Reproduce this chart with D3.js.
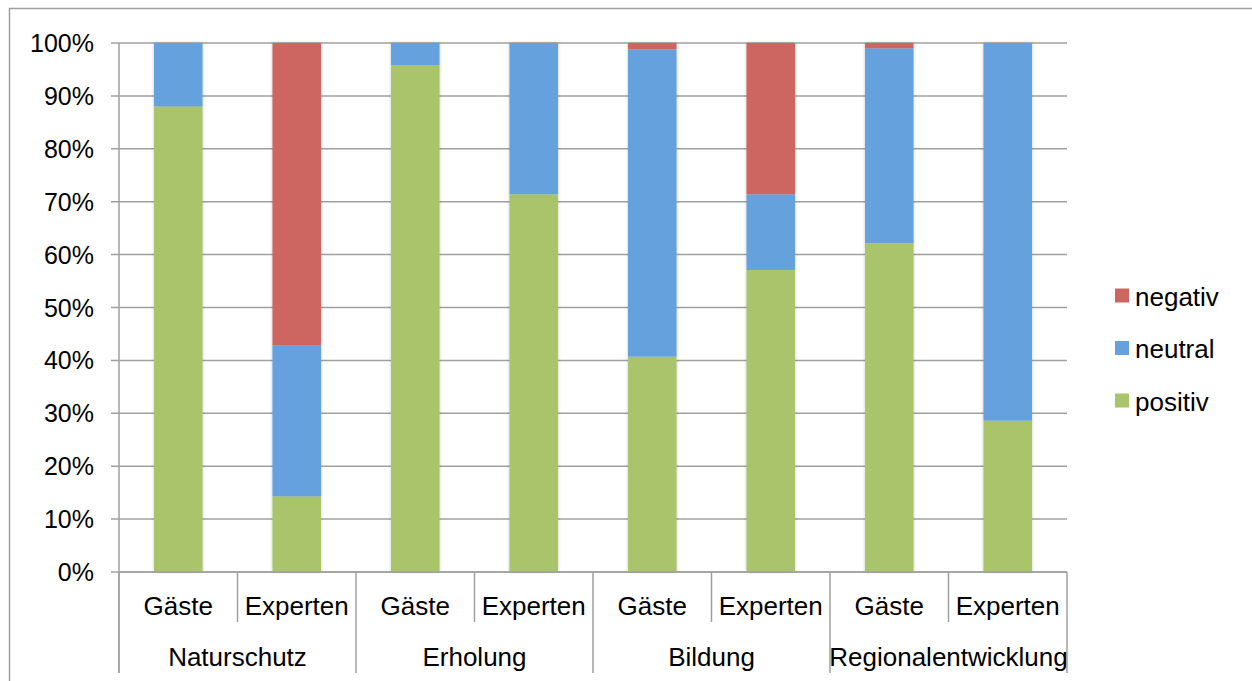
<!DOCTYPE html>
<html><head><meta charset="utf-8">
<script src="https://cdn.jsdelivr.net/npm/d3@7"></script>
<style>body{margin:0;background:#fff}svg{display:block}text{font-family:"Liberation Sans",Arial,sans-serif;fill:#000}</style>
</head><body><svg id="c" width="1252" height="681"></svg>
<script>
const groups = ["Naturschutz","Erholung","Bildung","Regionalentwicklung"];
const subgroups = ["Gäste","Experten"];
const seriesNames = ["positiv","neutral","negativ"];
const positiv = [88.0, 14.3, 95.8, 71.4, 40.7, 57.1, 62.2, 28.6];
const neutral = [12.0, 28.6, 4.2, 28.6, 58.1, 14.3, 36.8, 71.4];
const negativ = [0.0, 57.1, 0.0, 0.0, 1.2, 28.6, 1.0, 0.0];
const colors = ["#A9C46B","#65A1DD","#CD6660"];
const yTicks = [0,10,20,30,40,50,60,70,80,90,100];

const svg = d3.select("#c");
const L = 119, R = 1067, T = 43, B = 572;
svg.append("path").attr("d","M9.5,690 V8.5 H1262").attr("fill","none").attr("stroke","#a0a0a0").attr("stroke-width",1.5);

const cats = [];
groups.forEach(g => subgroups.forEach(s => cats.push(g+"|"+s)));
const x = d3.scaleBand().domain(cats).range([L,R]).paddingInner(0.59).paddingOuter(0.295);
const xStep = (R-L)/cats.length;
const y = d3.scaleLinear().domain([0,100]).range([B,T]);

const defs = svg.append("defs");
const f = defs.append("filter").attr("id","sh").attr("x","-20%").attr("y","-5%").attr("width","140%").attr("height","110%");
f.append("feDropShadow").attr("dx",0).attr("dy",0).attr("stdDeviation",1.5).attr("flood-color","#000").attr("flood-opacity",0.25);

svg.append("g").selectAll("line").data(yTicks).join("line")
  .attr("x1",L-8).attr("x2",R).attr("y1",d=>y(d)).attr("y2",d=>y(d))
  .attr("stroke","#a0a0a0").attr("stroke-width",1.5);
svg.append("g").selectAll("text").data(yTicks).join("text")
  .attr("x",94).attr("y",d=>y(d)).attr("dy","0.36em").attr("text-anchor","end")
  .attr("font-size",25).text(d=>d+"%");

const rows = cats.map((c,i)=>({cat:c, positiv:positiv[i], neutral:neutral[i], negativ:negativ[i]}));
const stack = d3.stack().keys(seriesNames)(rows);
const bars = svg.append("g").attr("filter","url(#sh)");
stack.forEach((s,si)=>{
  bars.append("g").attr("fill",colors[si]).selectAll("rect").data(s).join("rect")
    .attr("x",d=>x(d.data.cat)).attr("width",x.bandwidth())
    .attr("y",d=>y(d[1])).attr("height",d=>Math.max(0,y(d[0])-y(d[1])));
});

svg.append("line").attr("x1",L).attr("x2",L).attr("y1",T).attr("y2",673).attr("stroke","#a0a0a0").attr("stroke-width",1.5);
svg.append("line").attr("x1",L).attr("x2",R).attr("y1",B).attr("y2",B).attr("stroke","#a0a0a0").attr("stroke-width",1.5);
for(let i=0;i<=cats.length;i++){
  const xx = L + i*xStep;
  const long = i%2===0;
  svg.append("line").attr("x1",xx).attr("x2",xx).attr("y1",B).attr("y2",long?673:622)
    .attr("stroke","#a0a0a0").attr("stroke-width",1.5);
}
svg.append("g").selectAll("text").data(cats).join("text")
  .attr("x",d=>x(d)+x.bandwidth()/2).attr("y",615).attr("text-anchor","middle")
  .attr("font-size",26).text(d=>d.split("|")[1]);
svg.append("g").selectAll("text").data(groups).join("text")
  .attr("x",(d,i)=>L+(2*i+1)*xStep).attr("y",666).attr("text-anchor","middle")
  .attr("font-size",26).text(d=>d);

const leg = svg.append("g");
const legItems = seriesNames.slice().reverse();
legItems.forEach((n,i)=>{
  const by = 305.5 + i*52.5;
  leg.append("rect").attr("x",1115).attr("y",by-17).attr("width",14).attr("height",14).attr("fill",colors[seriesNames.indexOf(n)]);
  leg.append("text").attr("x",1135).attr("y",by).attr("font-size",26).text(n);
});
</script></body></html>
